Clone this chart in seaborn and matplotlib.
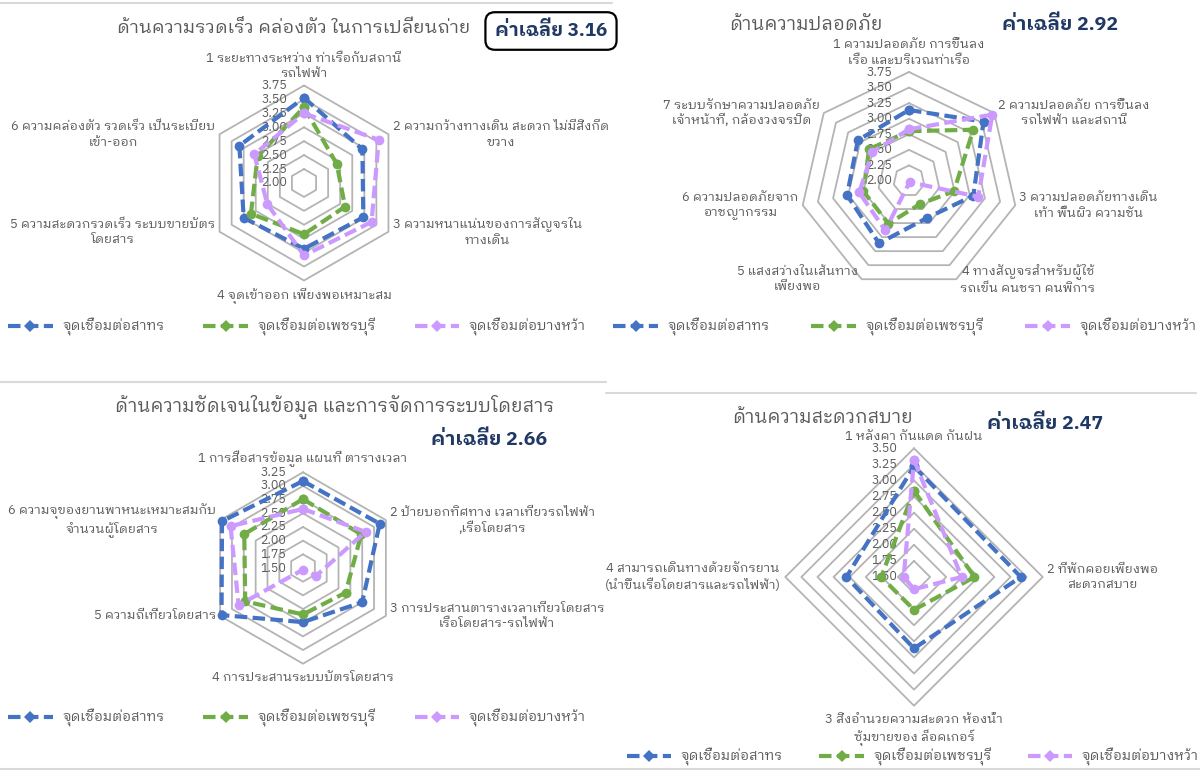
import numpy as np
import pandas as pd
import matplotlib
matplotlib.use("Agg")
import matplotlib.pyplot as plt
import seaborn as sns
from matplotlib import font_manager
from matplotlib.ft2font import FT2Font
from matplotlib.lines import Line2D

# ---------------- data ----------------
series_names = ["จุดเชื่อมต่อสาทร", "จุดเชื่อมต่อเพชรบุรี", "จุดเชื่อมต่อบางหว้า"]
series_colors = ["#4472C4", "#70AD47", "#CC99FF"]

speed_title = "ด้านความรวดเร็ว คล่องตัว ในการเปลี่ยนถ่าย"
speed_mean = "ค่าเฉลี่ย 3.16"
speed_labels = [
    "1 ระยะทางระหว่าง ท่าเรือกับสถานี\nรถไฟฟ้า",
    "2 ความกว้างทางเดิน สะดวก ไม่มีสิ่งกีด\nขวาง",
    "3 ความหนาแน่นของการสัญจรใน\nทางเดิน",
    "4 จุดเข้าออก เพียงพอเหมาะสม",
    "5 ความสะดวกรวดเร็ว ระบบขายบัตร\nโดยสาร",
    "6 ความคล่องตัว รวดเร็ว เป็นระเบียบ\nเข้า-ออก",
]
speed_sathorn = [3.53, 3.21, 3.23, 3.18, 3.25, 3.34]
speed_phetchaburi = [3.36, 2.68, 2.85, 2.92, 3.10, 2.96]
speed_bangwa = [3.25, 3.55, 3.40, 3.30, 2.76, 3.03]

safety_title = "ด้านความปลอดภัย"
safety_mean = "ค่าเฉลี่ย 2.92"
safety_labels = [
    "1 ความปลอดภัย การขึ้นลง\nเรือ และบริเวณท่าเรือ",
    "2 ความปลอดภัย การขึ้นลง\nรถไฟฟ้า และสถานี",
    "3 ความปลอดภัยทางเดิน\nเท้า พื้นผิว ความชัน",
    "4 ทางสัญจรสำหรับผู้ใช้\nรถเข็น คนชรา คนพิการ",
    "5 แสงสว่างในเส้นทาง\nเพียงพอ",
    "6 ความปลอดภัยจาก\nอาชญากรรม",
    "7 ระบบรักษาความปลอดภัย\nเจ้าหน้าที่, กล้องวงจรปิด",
]
safety_sathorn = [3.14, 3.53, 3.06, 2.66, 3.11, 3.02, 3.05]
safety_phetchaburi = [2.80, 3.32, 2.74, 2.41, 2.76, 2.75, 2.82]
safety_bangwa = [2.83, 3.71, 3.14, 2.02, 2.88, 2.82, 2.75]

info_title = "ด้านความชัดเจนในข้อมูล และการจัดการระบบโดยสาร"
info_mean = "ค่าเฉลี่ย 2.66"
info_labels = [
    "1 การสื่อสารข้อมูล แผนที่ ตารางเวลา",
    "2 ป้ายบอกทิศทาง เวลาเที่ยวรถไฟฟ้า\n,เรือโดยสาร",
    "3 การประสานตารางเวลาเที่ยวโดยสาร\nเรือโดยสาร-รถไฟฟ้า",
    "4 การประสานระบบบัตรโดยสาร",
    "5 ความถี่เที่ยวโดยสาร",
    "6 ความจุของยานพาหนะเหมาะสมกับ\nจำนวนผู้โดยสาร",
]
info_sathorn = [3.09, 3.12, 2.75, 2.49, 3.22, 3.21]
info_phetchaburi = [2.76, 2.73, 2.40, 2.35, 2.72, 2.74]
info_bangwa = [2.58, 2.82, 1.78, 1.53, 2.86, 3.03]

comfort_title = "ด้านความสะดวกสบาย"
comfort_mean = "ค่าเฉลี่ย 2.47"
comfort_labels = [
    "1 หลังคา กันแดด กันฝน",
    "2 ที่พักคอยเพียงพอ\nสะดวกสบาย",
    "3 สิ่งอำนวยความสะดวก ห้องน้ำ\nซุ้มขายของ ล็อคเกอร์",
    "4 สามารถเดินทางด้วยจักรยาน\n(นำขึ้นเรือโดยสารและรถไฟฟ้า)",
]
comfort_sathorn = [3.22, 3.16, 2.61, 2.55]
comfort_phetchaburi = [2.84, 2.44, 2.01, 2.01]
comfort_bangwa = [3.32, 2.24, 1.69, 1.66]


# ---------------- fonts ----------------
def find_thai_family():
    best = None
    for path in font_manager.findSystemFonts():
        try:
            cmap = FT2Font(path).get_charmap()
        except Exception:
            continue
        if 0x0E01 in cmap and 0x0E48 in cmap:
            prop = font_manager.FontProperties(fname=path)
            name = prop.get_name()
            low = path.lower()
            score = 0
            if "bold" in low or "italic" in low or "light" in low or "thin" in low:
                score -= 5
            if "sans" in name.lower():
                score += 2
            if best is None or score > best[0]:
                best = (score, name)
    return best[1] if best else None


sns.set_theme(style="white")
thai = find_thai_family()
families = ([thai] if thai else []) + ["DejaVu Sans"]
plt.rcParams["font.family"] = families

W, H = 1200, 772
fig = plt.figure(figsize=(W / 100, H / 100), dpi=100)
fig.patch.set_facecolor("white")

TEXT_GRAY = "#595959"
GRID_GRAY = "#B4B4B4"
NAVY = "#1F3864"
DASH = (0, (3.0, 1.3))


def fx(x):
    return x / W


def fy(y):
    return 1 - y / H


def radar(cx, cy, R, labels, values, vmin, vmax, step, tick_fmt="{:.2f}"):
    pad = 1.25
    ax = fig.add_axes([fx(cx - R * pad), fy(cy + R * pad), 2 * R * pad / W, 2 * R * pad / H])
    ax.set_xlim(-pad, pad)
    ax.set_ylim(-pad, pad)
    ax.axis("off")
    n = len(labels)
    ang = np.pi / 2 - np.arange(n) * 2 * np.pi / n
    ticks = np.arange(vmin, vmax + step / 2, step)
    # polygon rings
    for t in ticks[1:]:
        r = (t - vmin) / (vmax - vmin)
        xs = np.append(r * np.cos(ang), r * np.cos(ang[0]))
        ys = np.append(r * np.sin(ang), r * np.sin(ang[0]))
        ax.plot(xs, ys, color=GRID_GRAY, lw=1.3, zorder=1)
    # value scale along the vertical axis
    for t in ticks:
        r = (t - vmin) / (vmax - vmin)
        ax.annotate(tick_fmt.format(t), (0, r), xytext=(-12, 0), textcoords="offset points",
                    ha="right", va="center", fontsize=9, color=TEXT_GRAY, zorder=2)
    # series
    for name, vals, col in zip(series_names, values, series_colors):
        r = (np.asarray(vals) - vmin) / (vmax - vmin)
        df = pd.DataFrame({"x": np.append(r * np.cos(ang), r[0] * np.cos(ang[0])),
                           "y": np.append(r * np.sin(ang), r[0] * np.sin(ang[0]))})
        sns.lineplot(data=df, x="x", y="y", sort=False, estimator=None, ax=ax, color=col,
                     linewidth=3.0, linestyle=DASH, marker="o", markersize=7,
                     markeredgewidth=0, zorder=3, legend=False)
    # category labels
    for k, lab in enumerate(labels):
        c, s = np.cos(ang[k]), np.sin(ang[k])
        if c > 0.15:
            ha, dx = "left", 4
        elif c < -0.15:
            ha, dx = "right", -4
        else:
            ha, dx = "center", 0
        if s > 0.95:
            va, dy = "bottom", 5
        elif s < -0.95:
            va, dy = "top", -7
        else:
            va, dy = "center", 0
        ax.annotate(lab, (c, s), xytext=(dx * 0.75, dy * 0.75), textcoords="offset points",
                    ha=ha, va=va, multialignment="center", fontsize=9.4, color=TEXT_GRAY,
                    linespacing=1.25)
    return ax


def legend(ax, xc, yc, spacing):
    handles = [Line2D([], [], color=c, lw=3.0, linestyle=DASH, marker="D",
                      markersize=6, markeredgewidth=0) for c in series_colors]
    ax.legend(handles, series_names, loc="center", bbox_to_anchor=(fx(xc), fy(yc)),
              bbox_transform=fig.transFigure, ncol=3, frameon=False, fontsize=10,
              handlelength=3.2, columnspacing=spacing, handletextpad=0.7,
              labelcolor=TEXT_GRAY, borderpad=0, borderaxespad=0)


# top-left: speed and convenience of transfer
ax1 = radar(304, 183, 97.5, speed_labels,
            [speed_sathorn, speed_phetchaburi, speed_bangwa], 2.00, 3.75, 0.25)
fig.text(fx(294), fy(28), speed_title, ha="center", va="center", fontsize=13.2, color=TEXT_GRAY)
fig.text(fx(551), fy(31), speed_mean, ha="center", va="center", fontsize=13.6,
         color=NAVY, fontweight="bold",
         bbox=dict(boxstyle="round,pad=0.5,rounding_size=0.5", fc="white", ec="black", lw=1.6))
legend(ax1, 297, 327, 2.8)

# top-right: safety
ax2 = radar(909, 181, 109, safety_labels,
            [safety_sathorn, safety_phetchaburi, safety_bangwa], 2.00, 3.75, 0.25)
fig.text(fx(806), fy(25), safety_title, ha="center", va="center", fontsize=13.4, color=TEXT_GRAY)
fig.text(fx(1060), fy(25), safety_mean, ha="center", va="center", fontsize=14,
         color=NAVY, fontweight="bold")
legend(ax2, 905, 327, 3.0)

# bottom-left: information clarity and fare system
ax3 = radar(303, 568, 95.7, info_labels,
            [info_sathorn, info_phetchaburi, info_bangwa], 1.50, 3.25, 0.25)
fig.text(fx(335), fy(407), info_title, ha="center", va="center", fontsize=13.4, color=TEXT_GRAY)
fig.text(fx(489), fy(440), info_mean, ha="center", va="center", fontsize=14,
         color=NAVY, fontweight="bold")
legend(ax3, 297, 718, 2.8)

# bottom-right: comfort
ax4 = radar(914, 577, 128.7, comfort_labels,
            [comfort_sathorn, comfort_phetchaburi, comfort_bangwa], 1.50, 3.50, 0.25)
fig.text(fx(823), fy(418), comfort_title, ha="center", va="center", fontsize=13.4, color=TEXT_GRAY)
fig.text(fx(1045), fy(424), comfort_mean, ha="center", va="center", fontsize=14,
         color=NAVY, fontweight="bold")
legend(ax4, 913, 757, 2.6)

# panel frames
for (x0, x1, y) in [(0, 612, 3), (0, 606, 382), (606, 1196, 393), (0, 1200, 769)]:
    fig.add_artist(Line2D([fx(x0), fx(x1)], [fy(y), fy(y)], color="#D9D9D9", lw=1.5))

fig.savefig("out.png", dpi=100)
